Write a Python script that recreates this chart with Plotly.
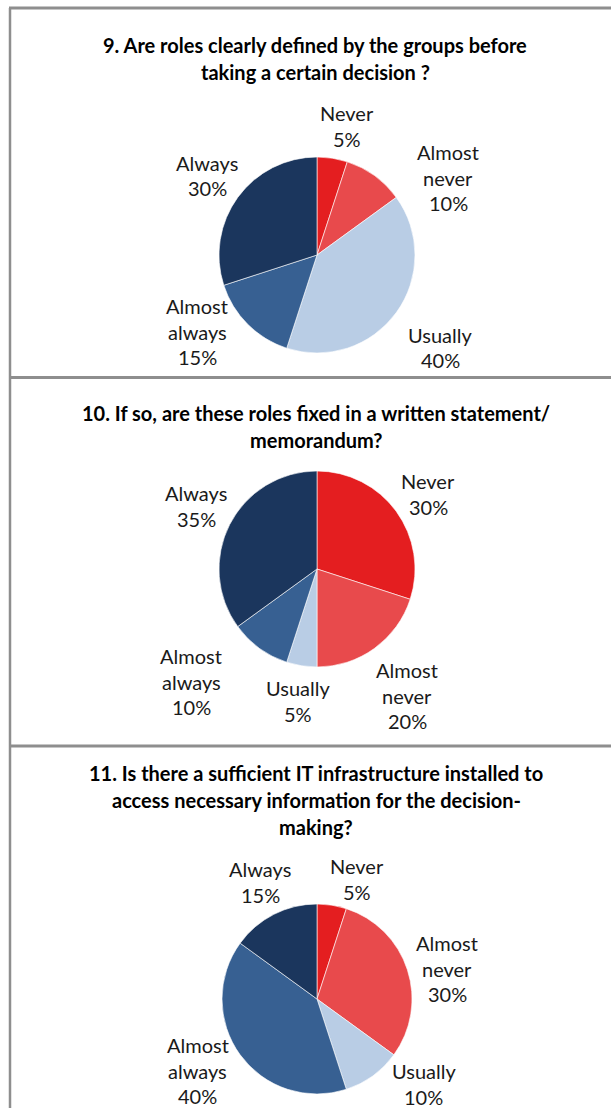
import plotly.graph_objects as go

# ---------------- data ----------------
categories = ["Never", "Almost never", "Usually", "Almost always", "Always"]
label_lines = [["Never"], ["Almost", "never"], ["Usually"], ["Almost", "always"], ["Always"]]

titles = [
    ["9. Are roles clearly defined by the groups before", "taking a certain decision ?"],
    ["10. If so, are these roles fixed in a written statement/", "memorandum?"],
    ["11. Is there a sufficient IT infrastructure installed to",
     "access necessary information for the decision-", "making?"],
]

q9_values = [5, 10, 40, 15, 30]
q10_values = [30, 20, 5, 10, 35]
q11_values = [5, 30, 10, 40, 15]
series = [q9_values, q10_values, q11_values]

colors = ["#E41E20", "#E84A4C", "#B9CDE5", "#376092", "#1B365D"]

# ---------------- layout (pixels) ----------------
W, H = 611, 1108
FONT = "Lato"
TITLE_SIZE = 20
LABEL_SIZE = 20
pie_geom = [(317, 255, 98), (317, 569, 98), (317, 999, 95)]   # center x, center y, radius
title_first_y = [45, 413, 773]
title_cx = [315, 316, 316]
title_step = 27
label_step = 25.5
# centre x and first-line y of each slice label, per chart
label_pos = [
    [(347, 113), (448, 152), (440, 335), (197, 306), (207, 163)],
    [(428, 481), (407, 670), (298, 688), (191, 656), (196, 493)],
    [(357, 866), (447, 943), (424, 1071), (198, 1045), (260, 869)],
]
border_color = "#8E8E8E"
panel_tops = [8, 377.5, 746]


def px(x):
    return x / W


def py(y):
    return 1 - y / H


fig = go.Figure()
annotations = []

for i, vals in enumerate(series):
    cx, cy, r = pie_geom[i]
    fig.add_trace(go.Pie(
        labels=categories,
        values=vals,
        sort=False,
        direction="clockwise",
        rotation=0,
        marker=dict(colors=colors, line=dict(color="white", width=0.6)),
        textinfo="none",
        hoverinfo="label+percent",
        showlegend=False,
        domain=dict(x=[px(cx - r), px(cx + r)], y=[py(cy + r), py(cy - r)]),
    ))
    # title lines
    for k, line in enumerate(titles[i]):
        annotations.append(dict(
            text="<b>%s</b>" % line, x=px(title_cx[i]), y=py(title_first_y[i] + k * title_step),
            xref="paper", yref="paper", xanchor="center", yanchor="middle",
            showarrow=False, font=dict(family=FONT, size=TITLE_SIZE, color="#000000"),
        ))
    # slice labels
    total = sum(vals)
    for j, cat_lines in enumerate(label_lines):
        lx, ly = label_pos[i][j]
        lines = cat_lines + ["%d%%" % round(100 * vals[j] / total)]
        for k, line in enumerate(lines):
            annotations.append(dict(
                text=line, x=px(lx), y=py(ly + k * label_step),
                xref="paper", yref="paper", xanchor="center", yanchor="middle",
                showarrow=False, font=dict(family=FONT, size=LABEL_SIZE, color="#1a1a1a"),
            ))

shapes = []
# left border
shapes.append(dict(type="line", xref="paper", yref="paper",
                   x0=px(10), x1=px(10), y0=py(8), y1=py(H + 5),
                   line=dict(color=border_color, width=2.5)))
for t in panel_tops:
    shapes.append(dict(type="line", xref="paper", yref="paper",
                       x0=px(9), x1=px(W + 5), y0=py(t), y1=py(t),
                       line=dict(color=border_color, width=3)))

fig.update_layout(
    width=W, height=H,
    margin=dict(l=0, r=0, t=0, b=0),
    paper_bgcolor="white", plot_bgcolor="white",
    annotations=annotations, shapes=shapes,
    font=dict(family=FONT),
)

fig.write_html(
    "out.html",
    config={"displayModeBar": False},
    post_script="document.body.style.margin='0';document.body.style.overflow='hidden';",
)
